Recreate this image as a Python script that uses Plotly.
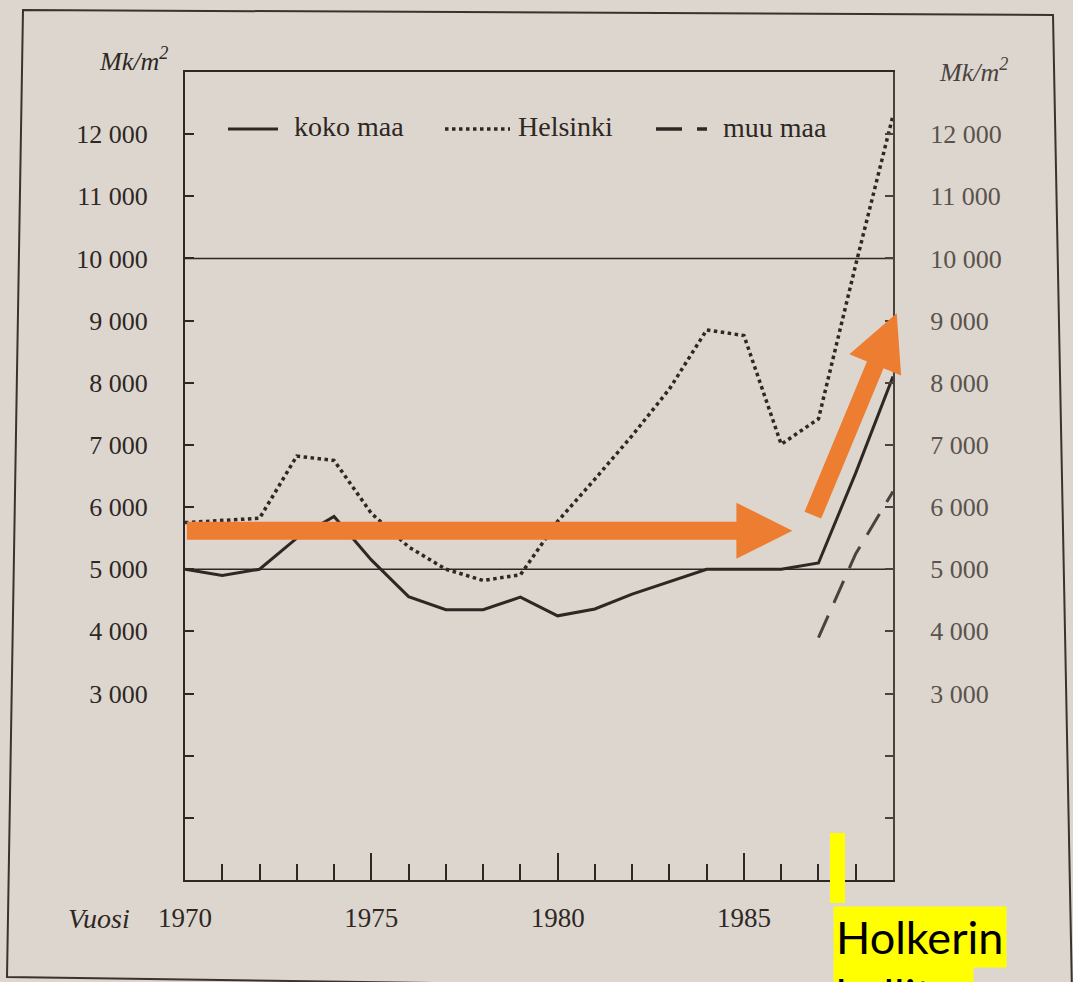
import math
import plotly.graph_objects as go

# ---------------- data ----------------
years = list(range(1970, 1990))
koko_maa = [5000, 4900, 5000, 5500, 5850, 5150, 4560, 4350, 4350, 4550,
            4250, 4360, 4600, 4800, 5000, 5000, 5000, 5100, 6550, 8100]
helsinki = [5750, 5780, 5820, 6820, 6750, 5900, 5360, 5000, 4820, 4910,
            5770, 6450, 7150, 7900, 8850, 8760, 7010, 7420, 9900, 12300]
muu_maa_years = [1987, 1988, 1989]
muu_maa = [3900, 5250, 6250]

y_tickvals = list(range(3000, 13000, 1000))
y_ticktext = ["3 000", "4 000", "5 000", "6 000", "7 000", "8 000",
              "9 000", "10 000", "11 000", "12 000"]
x_tickvals = [1970, 1975, 1980, 1985]
x_ticktext = ["1970", "1975", "1980", "1985"]
ref_levels = [5000, 10000]

# ---------------- layout geometry ----------------
FW, FH = 1073, 982
L, R, T, B = 185, 180, 72, 102
PW, PH = FW - L - R, FH - T - B
XMIN, XMAX, YMIN, YMAX = 1970, 1989, 0, 13000

INK = "#2e2724"
BG = "#dcd6ce"
SERIF = "Liberation Serif"
ORANGE = "#ED7D31"


def px2paper(px, py):
    return (px - L) / PW, (FH - B - py) / PH


def data2px(x, y):
    return L + (x - XMIN) / (XMAX - XMIN) * PW, T + (1 - (y - YMIN) / (YMAX - YMIN)) * PH


def poly_path(points_px, close=True):
    pts = [px2paper(px, py) for px, py in points_px]
    return "M " + " L ".join(f"{x:.5f},{y:.5f}" for x, y in pts) + (" Z" if close else "")


def arrow_path(x0, y0, x1, y1, shaft=18, head_len=56, head_w=56):
    ax, ay = data2px(x0, y0)
    bx, by = data2px(x1, y1)
    dx, dy = bx - ax, by - ay
    ln = math.hypot(dx, dy)
    ux, uy = dx / ln, dy / ln
    nx, ny = -uy, ux
    hx, hy = bx - ux * head_len, by - uy * head_len
    s, w = shaft / 2, head_w / 2
    pts = [
        (ax + nx * s, ay + ny * s),
        (hx + nx * s, hy + ny * s),
        (hx + nx * w, hy + ny * w),
        (bx, by),
        (hx - nx * w, hy - ny * w),
        (hx - nx * s, hy - ny * s),
        (ax - nx * s, ay - ny * s),
    ]
    return poly_path(pts)


fig = go.Figure()

fig.add_trace(go.Scatter(x=years, y=koko_maa, mode="lines", name="koko maa",
                         line=dict(color=INK, width=3), showlegend=False))
fig.add_trace(go.Scatter(x=years, y=helsinki, mode="lines", name="Helsinki",
                         line=dict(color=INK, width=3.5, dash="3.5px,3.5px"),
                         showlegend=False))
fig.add_trace(go.Scatter(x=muu_maa_years, y=muu_maa, mode="lines", name="muu maa",
                         line=dict(color="#4a423e", width=3, dash="24px,14px"),
                         showlegend=False, yaxis="y2"))

shapes = []
# reference lines
for lv in ref_levels:
    shapes.append(dict(type="line", xref="paper", yref="y", x0=0, x1=1, y0=lv, y1=lv,
                       line=dict(color=INK, width=1.5), layer="below"))

# outer page frame
shapes.append(dict(type="path", xref="paper", yref="paper",
                   path=poly_path([(23, 10), (1053, 15), (1072, 992), (7, 977)]),
                   line=dict(color="#3a322e", width=2), fillcolor="rgba(0,0,0,0)"))

# manual legend samples
leg_y = 129
for (x0, x1), dash, w in [((228, 278), "solid", 3), ((445, 510), "3.5px,3.5px", 3.5),
                          ((656, 707), "26px,15px,10px,60px", 3.5)]:
    a = px2paper(x0, leg_y)
    b = px2paper(x1, leg_y)
    shapes.append(dict(type="line", xref="paper", yref="paper", x0=a[0], y0=a[1],
                       x1=b[0], y1=b[1], line=dict(color=INK, width=w, dash=dash)))

# orange arrows (overlay annotations)
shapes.append(dict(type="path", xref="paper", yref="paper",
                   path=arrow_path(1970.05, 5620, 1986.3, 5620),
                   fillcolor=ORANGE, line=dict(width=0)))
shapes.append(dict(type="path", xref="paper", yref="paper",
                   path=arrow_path(1986.85, 5870, 1989.1, 9120),
                   fillcolor=ORANGE, line=dict(width=0)))

# yellow marker bar
shapes.append(dict(type="path", xref="paper", yref="paper",
                   path=poly_path([(830, 833), (845, 833), (845, 903), (830, 903)]),
                   fillcolor="#FFFF00", line=dict(width=0)))

annotations = []


def add_text(text, px, py, size, xanchor="left", yanchor="middle", color=INK, family=SERIF, **kw):
    x, y = px2paper(px, py)
    annotations.append(dict(text=text, x=x, y=y, xref="paper", yref="paper",
                            xanchor=xanchor, yanchor=yanchor, showarrow=False,
                            font=dict(family=family, size=size, color=color), **kw))


add_text("koko maa", 292, 127, 28)
add_text("Helsinki", 516, 127, 28)
add_text("muu maa", 721, 128, 28)
add_text("<i>Mk/m<sup>2</sup></i>", 133, 60, 26, xanchor="center")
add_text("<i>Mk/m<sup>2</sup></i>", 973, 70, 26, xanchor="center", color="#4a423e")
add_text("<i>Vuosi</i>", 99, 918, 28, xanchor="center")

# yellow text boxes
add_text("Holkerin", 833, 906, 45, yanchor="top", color="#000000",
         family="Lato", bgcolor="#FFFF00",
         width=168, height=56, align="left", borderpad=2)
add_text("hallitus", 833, 964, 45, yanchor="top", color="#000000",
         family="Lato", bgcolor="#FFFF00",
         width=135, height=56, align="left", borderpad=2)

fig.update_layout(
    width=FW, height=FH,
    margin=dict(l=L, r=R, t=T, b=B, autoexpand=False),
    paper_bgcolor=BG, plot_bgcolor=BG,
    showlegend=False,
    shapes=shapes, annotations=annotations,
    xaxis=dict(range=[XMIN, XMAX], tickvals=x_tickvals, ticktext=x_ticktext,
               ticks="inside", ticklen=27, tickwidth=2, tickcolor=INK,
               minor=dict(dtick=1, tick0=1970, ticks="inside", ticklen=16,
                          tickwidth=2, tickcolor=INK, showgrid=False),
               showline=True, linecolor=INK, linewidth=2, mirror=True,
               showgrid=False, zeroline=False, ticklabelstandoff=13,
               tickfont=dict(family=SERIF, size=27, color=INK)),
    yaxis=dict(range=[YMIN, YMAX], tickvals=y_tickvals, ticktext=y_ticktext,
               ticks="inside", ticklen=9, tickwidth=2, tickcolor=INK,
               minor=dict(dtick=1000, tick0=0, ticks="inside", ticklen=9,
                          tickwidth=2, tickcolor=INK, showgrid=False),
               showline=True, linecolor=INK, linewidth=2,
               showgrid=False, zeroline=False, ticklabelstandoff=30,
               tickfont=dict(family=SERIF, size=26, color=INK)),
    yaxis2=dict(range=[YMIN, YMAX], overlaying="y", side="right", matches="y",
                tickvals=y_tickvals, ticktext=y_ticktext,
                ticks="inside", ticklen=8, tickwidth=2, tickcolor="#4a423e",
                minor=dict(dtick=1000, tick0=0, ticks="inside", ticklen=8,
                           tickwidth=2, tickcolor="#4a423e", showgrid=False),
                showline=True, linecolor="#4a423e", linewidth=2,
                showgrid=False, zeroline=False, ticklabelstandoff=30,
                tickfont=dict(family=SERIF, size=26, color="#5a524d")),
)

fig.write_html(
    "out.html",
    config={"displayModeBar": False},
    post_script="document.body.style.margin='0';document.body.style.background='%s';" % BG,
)
